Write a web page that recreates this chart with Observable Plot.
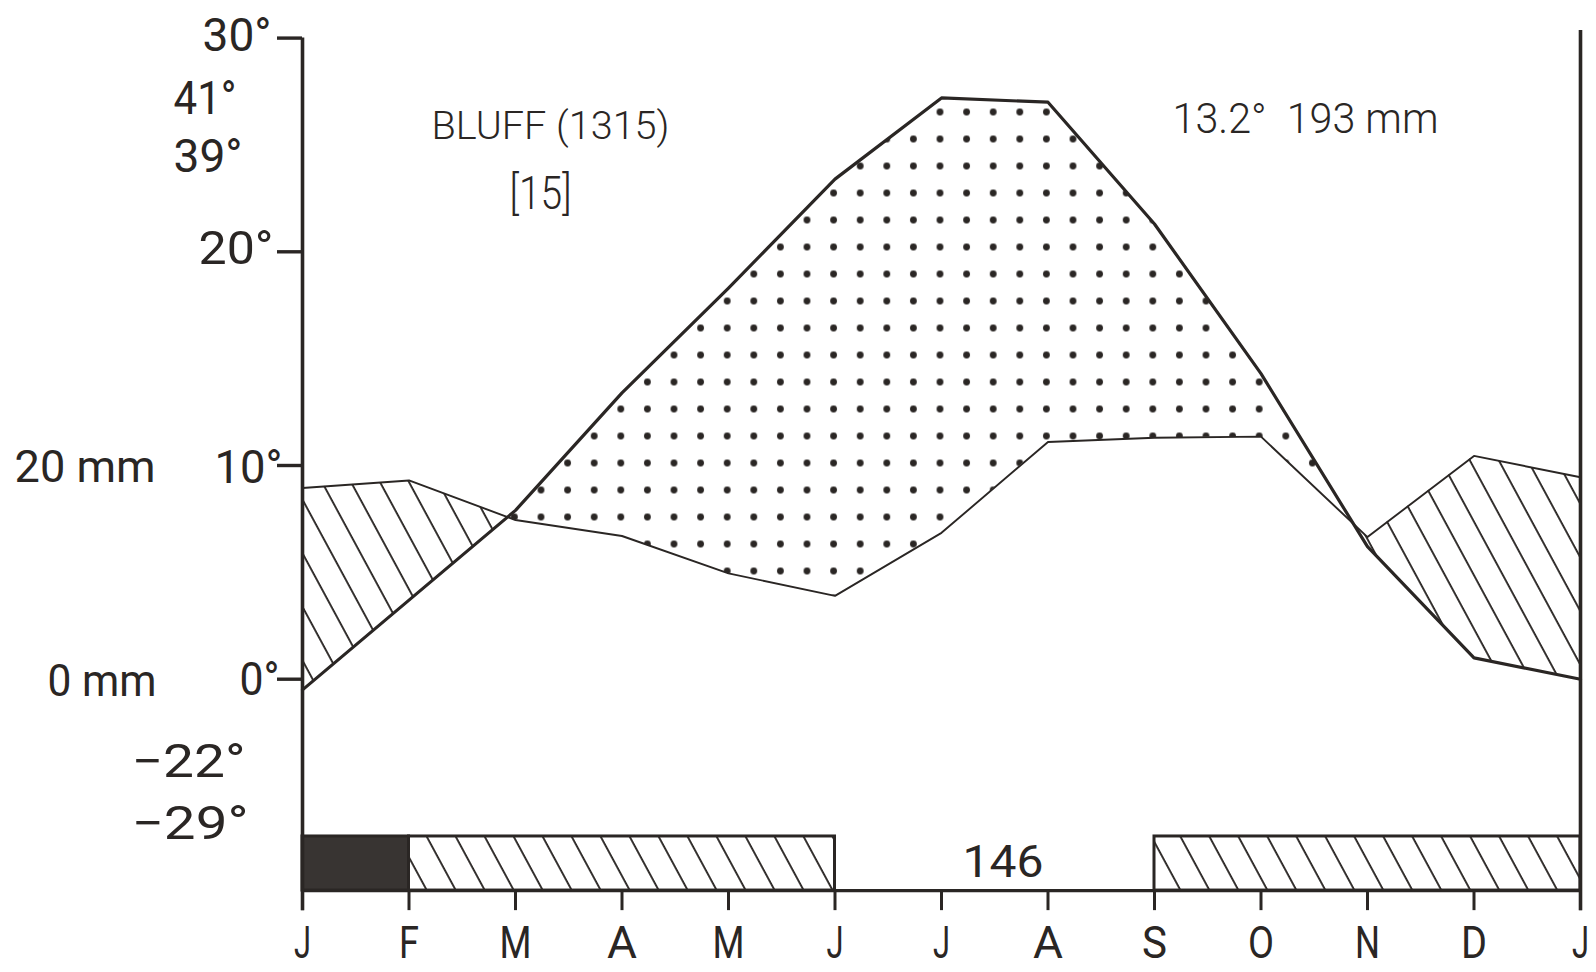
<!DOCTYPE html>
<html>
<head>
<meta charset="utf-8">
<script src="https://cdn.jsdelivr.net/npm/d3@7"></script>
<script src="https://cdn.jsdelivr.net/npm/@observablehq/plot@0.6"></script>
<style>
  html, body { margin: 0; padding: 0; background: #ffffff; overflow: hidden; }
</style>
</head>
<body>
<div id="chart"></div>
<script>
// ---------- data ----------
const months = ["J","F","M","A","M","J","J","A","S","O","N","D","J"];
const temperature = [-0.5, 3.7, 7.9, 13.4, 18.3, 23.4, 27.2, 27.0, 21.3, 14.3, 6.2, 1.0, 0.0];      // °C
const precipitation = [17.9, 18.6, 14.9, 13.4, 9.9, 7.8, 13.7, 22.2, 22.6, 22.7, 13.3, 20.9, 18.9]; // mm
const tempTicks = [30, 20, 10, 0];
const tempTickLabels = ["30°", "20°", "10°", "0°"];
const maxLabels = ["41°", "39°"];
const minLabels = ["−22°", "−29°"];
const precipLabels = ["20 mm", "0 mm"];
const stationTitle = "BLUFF (1315)";
const yearsLabel = "[15]";
const annualLabel = "13.2°  193 mm";
const frostFreeLabel = "146";
const frostStart = [0, 1, 8];
const frostEnd = [1, 5, 12];
const frostType = ["certain", "probable", "probable"];

// ---------- layout ----------
const INK = "#2a2624";
const FONT = "Roboto, 'Liberation Sans', 'DejaVu Sans', sans-serif";
const L = { barTop: -7.36, barBottom: -9.89, tickEnd: -10.83, tickLen: 0.235, monthY: -12.37, rightTop: 30.35 };

const rows = months.map((m, i) => ({ i, m, t: temperature[i], p: precipitation[i] / 2 })); // 20 mm = 10°
// add crossing points so that the arid/humid fills meet exactly at the line intersections
const filled = [];
rows.forEach((b, k) => {
  if (k > 0) {
    const a = rows[k - 1];
    const da = a.t - a.p, db = b.t - b.p;
    if (da * db < 0) {
      const f = da / (da - db);
      const y = a.t + f * (b.t - a.t);
      filled.push({ i: a.i + f, t: y, p: y });
    }
  }
  filled.push(b);
});

const frost = frostStart.map((s, k) => ({ start: s, end: frostEnd[k], type: frostType[k] }));

const labels = [
  { text: tempTickLabels[0], x: -0.615, y: 30.07, size: 46, weight: 400 },
  { text: tempTickLabels[1], x: -0.624, y: 20.1, size: 46, weight: 400 },
  { text: tempTickLabels[2], x: -0.507, y: 9.86, size: 46, weight: 400 },
  { text: tempTickLabels[3], x: -0.404, y: -0.06, size: 46, weight: 400 },
  { text: maxLabels[0], x: -0.915, y: 27.13, size: 46, weight: 400 },
  { text: maxLabels[1], x: -0.887, y: 24.41, size: 46, weight: 400 },
  { text: precipLabels[0], x: -2.042, y: 9.91, size: 44, weight: 400 },
  { text: precipLabels[1], x: -1.883, y: -0.15, size: 44, weight: 400 },
  { text: minLabels[0], x: -1.07, y: -3.9, size: 46, weight: 400 },
  { text: minLabels[1], x: -1.056, y: -6.8, size: 46, weight: 400 },
  { text: stationTitle, x: 2.329, y: 25.86, size: 38, weight: 300 },
  { text: yearsLabel, x: 2.235, y: 22.67, size: 46, weight: 300 },
  { text: annualLabel, x: 9.418, y: 26.19, size: 43, weight: 300 },
  { text: frostFreeLabel, x: 6.577, y: -8.58, size: 44, weight: 400 }
];
const widths = new Map([
  ["30°", 69], ["20°", 75], ["10°", 68], ["0°", 40], ["41°", 63], ["39°", 69],
  ["20 mm", 141], ["0 mm", 109], ["−22°", 114], ["−29°", 117],
  ["BLUFF (1315)", 238], ["[15]", 62], ["13.2°  193 mm", 266], ["146", 81],
  ["J", 17], ["F", 20], ["M", 32], ["A", 30], ["S", 25], ["O", 26], ["N", 25], ["D", 26]
]);

const plot = Plot.plot({
  width: 1596,
  height: 972,
  margin: 0,
  x: { domain: [0, 12], range: [302, 1580], axis: null },
  y: { domain: [0, 30], range: [678.7, 37.6], axis: null },
  style: { background: "#ffffff", color: INK },
  marks: [
    // arid period (temperature above precipitation): dots
    Plot.areaY(filled, { x: "i", y1: "p", y2: d => Math.max(d.t, d.p), fill: "url(#dots)" }),
    // humid period: hatching
    Plot.areaY(filled, { x: "i", y1: "t", y2: d => Math.max(d.t, d.p), fill: "url(#hatch)" }),
    // precipitation curve
    Plot.line(rows, { x: "i", y: "p", stroke: INK, strokeWidth: 1.9 }),
    // temperature curve
    Plot.line(rows, { x: "i", y: "t", stroke: INK, strokeWidth: 3.2 }),
    // frost bar
    Plot.rect(frost.filter(d => d.type === "probable"), { x1: "start", x2: "end", y1: L.barBottom, y2: L.barTop, fill: "url(#hatch)", stroke: INK, strokeWidth: 3 }),
    Plot.rect(frost.filter(d => d.type === "certain"), { x1: "start", x2: "end", y1: L.barBottom, y2: L.barTop, fill: "#383432", stroke: INK, strokeWidth: 3 }),
    Plot.ruleY([L.barBottom], { x1: 0, x2: 12, stroke: INK, strokeWidth: 3.2 }),
    // axes
    Plot.ruleX([0], { y1: 30, y2: L.tickEnd, stroke: INK, strokeWidth: 3.6 }),
    Plot.ruleX([12], { y1: L.rightTop, y2: L.tickEnd, stroke: INK, strokeWidth: 3.6 }),
    Plot.ruleY(tempTicks, { y: d => d, x1: -L.tickLen, x2: 0, stroke: INK, strokeWidth: 3.4 }),
    Plot.ruleX(months.map((m, i) => i), { x: d => d, y1: L.barBottom, y2: L.tickEnd, stroke: INK, strokeWidth: 3 }),
    // texts
    Plot.text(months.map((m, i) => ({ m, i })), { x: "i", y: L.monthY, text: "m", fontSize: 45, fontFamily: FONT, fontWeight: 400, fill: INK }),
    Plot.text(labels.filter(d => d.weight === 400), { x: "x", y: "y", text: "text", fontSize: "size", fontFamily: FONT, fontWeight: 400, fill: INK }),
    Plot.text(labels.filter(d => d.weight === 300), { x: "x", y: "y", text: "text", fontSize: "size", fontFamily: FONT, fontWeight: 300, fill: INK })
  ]
});

// patterns
const svg = d3.select(plot);
const defs = svg.insert("defs", ":first-child");
const hatch = defs.append("pattern")
  .attr("id", "hatch").attr("patternUnits", "userSpaceOnUse")
  .attr("width", 25.5).attr("height", 10)
  .attr("patternTransform", "rotate(-28.4)");
hatch.append("line").attr("x1", 3).attr("x2", 3).attr("y1", -1).attr("y2", 11)
  .attr("stroke", INK).attr("stroke-width", 1.9);
const dots = defs.append("pattern")
  .attr("id", "dots").attr("patternUnits", "userSpaceOnUse")
  .attr("x", 22.3).attr("y", 17.5).attr("width", 26.6).attr("height", 27);
dots.append("circle").attr("cx", 13.3).attr("cy", 13.5).attr("r", 3.4).attr("fill", INK);

// condensed lettering like the original
plot.querySelectorAll("text").forEach(el => {
  const w = widths.get(el.textContent);
  if (w) {
    el.setAttribute("textLength", w);
    el.setAttribute("lengthAdjust", "spacingAndGlyphs");
  }
});

document.getElementById("chart").appendChild(plot);
</script>
</body>
</html>
